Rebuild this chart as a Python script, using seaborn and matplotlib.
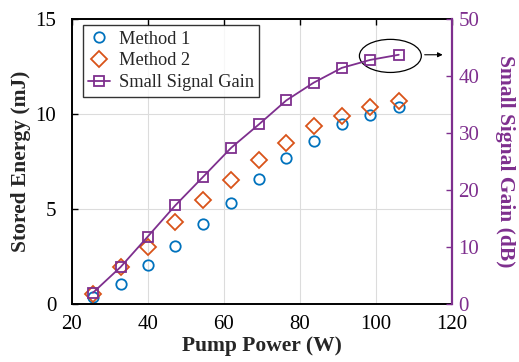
import matplotlib
matplotlib.use("Agg")
import matplotlib.pyplot as plt
import seaborn as sns
import pandas as pd
from matplotlib.patches import Ellipse

pump_power = [25.6, 32.9, 40.0, 47.3, 54.6, 62.0, 69.3, 76.5, 83.7, 91.1, 98.6, 106.1]
method1 = [0.38, 1.05, 2.05, 3.04, 4.23, 5.33, 6.59, 7.67, 8.60, 9.47, 9.96, 10.38]
method2 = [0.52, 1.96, 3.00, 4.32, 5.49, 6.50, 7.59, 8.48, 9.35, 9.87, 10.38, 10.66]
gain_db = [1.98, 6.5, 11.8, 17.3, 22.3, 27.4, 31.5, 35.7, 38.8, 41.4, 42.8, 43.7]

BLUE = "#0072BD"
ORANGE = "#D95319"
PURPLE = "#7E2F8E"

df = pd.DataFrame({"power": pump_power, "m1": method1, "m2": method2, "gain": gain_db})

sns.set_style("white")
plt.rcParams["font.family"] = ["Liberation Serif", "DejaVu Serif"]
plt.rcParams["font.size"] = 15

fig = plt.figure(figsize=(5.19, 3.62), dpi=100)
ax = fig.add_axes([0.138, 0.160, 0.732, 0.788])
ax2 = ax.twinx()

sns.lineplot(data=df, x="power", y="m1", ax=ax, marker="o", linestyle="",
             markerfacecolor="none", markeredgecolor=BLUE, markeredgewidth=1.3,
             markersize=7.5, label="Method 1", legend=False)
sns.lineplot(data=df, x="power", y="m2", ax=ax, marker="D", linestyle="",
             markerfacecolor="none", markeredgecolor=ORANGE, markeredgewidth=1.3,
             markersize=8, label="Method 2", legend=False)
sns.lineplot(data=df, x="power", y="gain", ax=ax2, marker="s", color=PURPLE,
             markerfacecolor="none", markeredgecolor=PURPLE, markeredgewidth=1.3,
             markersize=7.5, linewidth=1.3, label="Small Signal Gain", legend=False)

ax.set_xlim(20, 120)
ax.set_ylim(0, 15)
ax.set_xticks([20, 40, 60, 80, 100, 120])
ax.set_yticks([0, 5, 10, 15])
ax2.set_ylim(0, 50)
ax2.set_yticks([0, 10, 20, 30, 40, 50])

ax.grid(True, color="#dcdcdc", linewidth=0.8)
ax.set_axisbelow(True)

ax.set_xlabel("Pump Power (W)", fontweight="bold", fontsize=15.5, labelpad=1)
ax.set_ylabel("Stored Energy (mJ)", fontweight="bold", fontsize=15.5, labelpad=3)
ax2.set_ylabel("Small Signal Gain (dB)", fontweight="bold", fontsize=15.5, color=PURPLE,
               rotation=270, labelpad=26)

ax.tick_params(axis="x", direction="in", length=4, width=1, top=True,
               labelsize=15, colors="black", pad=8)
ax.tick_params(axis="y", direction="in", length=4, width=1,
               labelsize=15, colors="black", pad=11)
ax2.tick_params(axis="y", direction="in", length=4, width=1, colors=PURPLE,
                labelsize=15, pad=5)

for side in ["left", "bottom", "top"]:
    ax2.spines[side].set_visible(False)
for side in ["left", "bottom", "top", "right"]:
    ax.spines[side].set_color("black")
    ax.spines[side].set_linewidth(1.4)
ax.spines["right"].set_visible(False)
ax2.spines["right"].set_color(PURPLE)
ax2.spines["right"].set_linewidth(1.6)

ell = Ellipse((103.9, 43.5), 16.3, 5.8, fill=False, edgecolor="black", linewidth=0.9)
ax2.add_patch(ell)
ax2.annotate("", xy=(118.4, 43.7), xytext=(112.2, 43.7),
             arrowprops=dict(arrowstyle="-|>", color="black", lw=0.8, mutation_scale=7))

h1, l1 = ax.get_legend_handles_labels()
h2, l2 = ax2.get_legend_handles_labels()
leg = ax2.legend(h1 + h2, l1 + l2, loc="upper left", bbox_to_anchor=(0.02, 0.99),
                 fontsize=13.2, frameon=True, fancybox=False, edgecolor="black",
                 handlelength=1.2, handletextpad=0.45, borderpad=0.3, labelspacing=0.25,
                 borderaxespad=0.2)
leg.get_frame().set_linewidth(1.0)

fig.savefig("out.png", dpi=100)
